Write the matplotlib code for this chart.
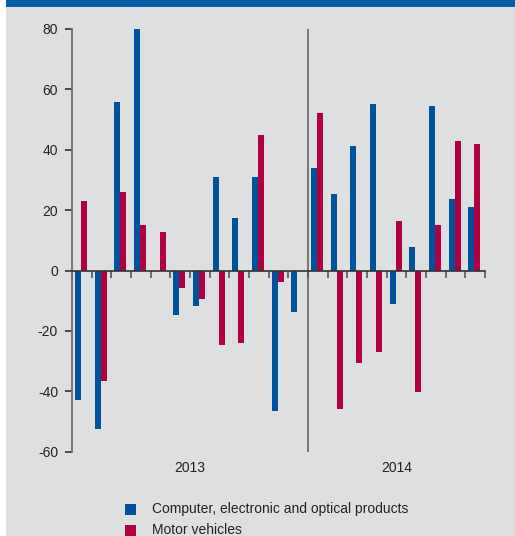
import numpy as np
import matplotlib
matplotlib.use("Agg")
import matplotlib.pyplot as plt
from matplotlib.patches import Rectangle

plt.rcParams['font.family'] = ['Liberation Sans', 'DejaVu Sans']
plt.rcParams['axes.unicode_minus'] = False

# monthly values, Jan 2013 - Sep 2014
computer = [-43, -52.5, 55.8, 80, 0, -14.8, -11.8, 31, 17.4, 31, -46.6, -13.8,
            34, 25.4, 41.3, 55.2, -11.1, 7.8, 54.5, 23.7, 21.1]
motor = [23.1, -36.6, 26, 15.1, 12.8, -5.8, -9.5, -24.7, -24.1, 44.9, -3.9, 0,
         52.2, -45.9, -30.7, -27, 16.4, -40.3, 15.1, 42.9, 41.9]
years = ['2013', '2014']
year_months = [12, 9]
yticks = [-60, -40, -20, 0, 20, 40, 60, 80]
labels = ['Computer, electronic and optical products', 'Motor vehicles']

blue = '#00529c'
red = '#b00042'
bg = '#dedfe0'

W, H = 515, 536
fig = plt.figure(figsize=(W / 100, H / 100), dpi=100, facecolor='white')
fig.patches.append(Rectangle((6 / W, 0), 1 - 6 / W, 1, transform=fig.transFigure,
                             facecolor=bg, edgecolor='none', zorder=-2))
fig.patches.append(Rectangle((6 / W, 1 - 7 / H), 1 - 6 / W, 7 / H, transform=fig.transFigure,
                             facecolor='#0060aa', edgecolor='none', zorder=-1))

ax = fig.add_axes([72 / W, (H - 451.7) / H, (485 - 72) / W, (451.7 - 29) / H])
ax.patch.set_alpha(0)

x = np.arange(len(computer))
w = 0.305
ax.bar(x + 0.155, computer, width=w, align='edge', color=blue, zorder=2)
ax.bar(x + 0.155 + w, motor, width=w, align='edge', color=red, zorder=2)

ax.set_xlim(0, len(computer))
ax.set_ylim(-60, 80)

for s in ['top', 'right']:
    ax.spines[s].set_visible(False)
ax.spines['left'].set_color('#6e6e6e')
ax.spines['left'].set_linewidth(1.3)
ax.spines['bottom'].set_position(('data', 0))
ax.spines['bottom'].set_color('#333333')
ax.spines['bottom'].set_linewidth(1.2)
ax.spines['bottom'].set_zorder(3)

ax.set_xticks(np.arange(len(computer) + 1))
ax.set_xticklabels([])
ax.tick_params(axis='x', direction='out', length=5, width=1.2, color='#555555')
ax.set_yticks(yticks)
ax.set_yticklabels([str(v) for v in yticks])
ax.tick_params(axis='y', direction='out', length=5, width=1.2, color='#333333',
               labelsize=10, labelcolor='#222222', pad=5)

ax.axvline(year_months[0], color='#6e6e6e', lw=1.3, zorder=1)

start = 0
for yr, n in zip(years, year_months):
    ax.text(start + n / 2, -65.3, yr, ha='center', va='center', fontsize=10,
            color='#222222', clip_on=False)
    start += n

for i, (lab, col) in enumerate(zip(labels, [blue, red])):
    yc = 509 + i * 21.5
    fig.patches.append(Rectangle((125 / W, 1 - (yc + 5.5) / H), 11 / W, 11 / H,
                                 transform=fig.transFigure, facecolor=col, edgecolor='none'))
    fig.text(152 / W, 1 - yc / H, lab, ha='left', va='center', fontsize=10, color='#222222')

fig.savefig('out.png', dpi=100, facecolor=fig.get_facecolor())
